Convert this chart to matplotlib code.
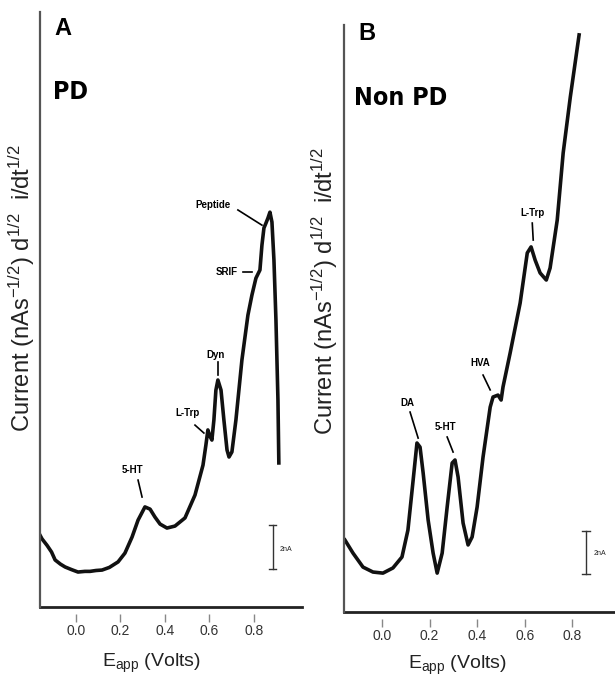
import matplotlib
matplotlib.use('Agg')
import matplotlib.pyplot as plt

plt.rcParams['font.family'] = ['Liberation Sans', 'DejaVu Sans']
plt.rcParams['mathtext.fontset'] = 'custom'
plt.rcParams['mathtext.rm'] = 'Liberation Sans'
plt.rcParams['mathtext.it'] = 'Liberation Sans:italic'
plt.rcParams['mathtext.bf'] = 'Liberation Sans:bold'

# Panel A - PD voltammogram (Volts, nA)
pd_volts = [-0.162, -0.153, -0.13, -0.11, -0.094, -0.07, -0.049, -0.02, 0.009, 0.04,
            0.063, 0.09, 0.117, 0.15, 0.189, 0.22, 0.252, 0.279, 0.31, 0.333,
            0.355, 0.378, 0.409, 0.445, 0.49, 0.535, 0.571, 0.584, 0.593, 0.602,
            0.611, 0.62, 0.629, 0.638, 0.652, 0.665, 0.679, 0.688, 0.701, 0.719,
            0.746, 0.773, 0.791, 0.809, 0.827, 0.836, 0.845, 0.854, 0.863, 0.872,
            0.881, 0.89, 0.899, 0.908, 0.912]
pd_current = [3.27, 3.1, 2.8, 2.5, 2.14, 1.95, 1.82, 1.7, 1.59, 1.62,
              1.62, 1.66, 1.68, 1.8, 2.05, 2.45, 3.18, 3.95, 4.55, 4.45,
              4.09, 3.77, 3.59, 3.68, 4.05, 5.09, 6.45, 7.36, 8.05, 7.77,
              7.59, 8.5, 9.86, 10.32, 9.86, 8.5, 7.14, 6.82, 7.05, 8.5,
              11.23, 13.27, 14.18, 14.95, 15.32, 16.45, 17.23, 17.45, 17.68, 17.95,
              17.5, 15.77, 13.05, 9.41, 6.55]

# Panel B - Non PD voltammogram
npd_volts = [-0.156, -0.122, -0.08, -0.038, 0.004, 0.046, 0.084, 0.109, 0.131, 0.147,
             0.16, 0.173, 0.194, 0.215, 0.232, 0.253, 0.274, 0.295, 0.307, 0.32,
             0.341, 0.362, 0.379, 0.4, 0.425, 0.455, 0.467, 0.488, 0.501, 0.509,
             0.539, 0.581, 0.611, 0.627, 0.644, 0.665, 0.691, 0.707, 0.737, 0.762,
             0.792, 0.829]
npd_current = [3.35, 2.74, 2.09, 1.86, 1.81, 2.05, 2.56, 3.81, 6.14, 7.86,
               7.67, 6.47, 4.28, 2.74, 1.81, 2.74, 4.88, 6.93, 7.07, 6.28,
               4.14, 3.12, 3.49, 4.88, 7.21, 9.53, 10.0, 10.09, 9.86, 10.47,
               12.05, 14.37, 16.7, 16.98, 16.37, 15.77, 15.44, 16.0, 18.23, 21.35,
               23.95, 26.84]

xticks = [0.0, 0.2, 0.4, 0.6, 0.8]
xticklabels = ['0.0', '0.2', '0.4', '0.6', '0.8']

ylab = r'Current (nAs$^{-1/2}$) d$^{1/2}$  i/dt$^{1/2}$'
xlab = r'E$_{\rm app}$ (Volts)'

fig = plt.figure(figsize=(6.15, 6.78), dpi=100)
axA = fig.add_axes([0.065, 0.1047, 0.426, 0.8776])
axB = fig.add_axes([0.5593, 0.0973, 0.4407, 0.8658])


def style(ax, xlim, ylim):
    ax.set_xlim(*xlim)
    ax.set_ylim(*ylim)
    for s in ['top', 'right']:
        ax.spines[s].set_visible(False)
    ax.spines['left'].set_color('#555')
    ax.spines['left'].set_linewidth(1.6)
    # ticks sit below the axis line with a small gap
    ax.spines['bottom'].set_position(('outward', 5))
    ax.spines['bottom'].set_visible(False)
    ax.axhline(ylim[0], color='#222', lw=2.0, clip_on=False)
    ax.set_yticks([])
    ax.set_xticks(xticks)
    ax.set_xticklabels(xticklabels)
    ax.tick_params(axis='x', direction='out', length=6, width=1, color='#888',
                   labelsize=10, labelcolor='#333', pad=1)


def scalebar(ax, x, y0, y1, tx, ty):
    ax.plot([x, x], [y0, y1], color='#333', lw=1)
    for y in (y0, y1):
        ax.plot([x - 0.016, x + 0.016], [y, y], color='#333', lw=1)
    ax.text(tx, ty, '2nA', fontsize=5, ha='center', va='center', color='#222')


def peak(ax, label, txy, p0, p1, ha='center'):
    ax.text(txy[0], txy[1], label, fontsize=7, fontweight='bold', ha=ha, va='center')
    ax.plot([p0[0], p1[0]], [p0[1], p1[1]], color='k', lw=1.2)


# ---- A
style(axA, (-0.162, 1.016), (0, 27.05))
axA.plot(pd_volts, pd_current, color='#111', lw=2.6, solid_joinstyle='round')
axA.text(-0.058, 26.3, 'A', fontsize=17, fontweight='bold', ha='center', va='center')
axA.text(-0.105, 23.4, 'PD', fontsize=18, fontweight='bold', family='DejaVu Sans',
         fontstretch='condensed', ha='left', va='center')
peak(axA, '5-HT', (0.256, 6.23), (0.279, 5.77), (0.297, 5.0))
peak(axA, 'L-Trp', (0.503, 8.82), (0.535, 8.27), (0.575, 7.91))
peak(axA, 'Dyn', (0.629, 11.45), (0.638, 11.14), (0.638, 10.55))
peak(axA, 'SRIF', (0.679, 15.23), (0.751, 15.23), (0.791, 15.23))
peak(axA, 'Peptide', (0.616, 18.27), (0.728, 18.05), (0.836, 17.36))
scalebar(axA, 0.885, 1.73, 3.73, 0.945, 2.6)
axA.set_ylabel(ylab, fontsize=17, color='#222')
axA.yaxis.set_label_coords(-0.01, 0.536)
axA.set_xlabel(xlab, fontsize=14, color='#222')
axA.xaxis.set_label_coords(0.425, -0.076)

# ---- B
style(axB, (-0.16, 0.98), (0, 27.3))
axB.plot(npd_volts, npd_current, color='#111', lw=2.6, solid_joinstyle='round')
axB.text(-0.063, 26.9, 'B', fontsize=17, fontweight='bold', ha='center', va='center')
axB.text(-0.118, 23.9, 'Non PD', fontsize=18, fontweight='bold', family='DejaVu Sans',
         fontstretch='condensed', ha='left', va='center')
peak(axB, 'DA', (0.105, 9.72), (0.118, 9.30), (0.152, 8.09))
peak(axB, '5-HT', (0.265, 8.6), (0.274, 8.14), (0.299, 7.44))
peak(axB, 'HVA', (0.413, 11.58), (0.425, 11.02), (0.455, 10.33))
peak(axB, 'L-Trp', (0.632, 18.56), (0.632, 18.09), (0.636, 17.3))
scalebar(axB, 0.859, 1.77, 3.77, 0.918, 2.7)
axB.set_ylabel(ylab, fontsize=17, color='#222')
axB.yaxis.set_label_coords(-0.015, 0.547)
axB.set_xlabel(xlab, fontsize=14, color='#222')
axB.xaxis.set_label_coords(0.418, -0.072)

fig.savefig('out.png', dpi=100)
